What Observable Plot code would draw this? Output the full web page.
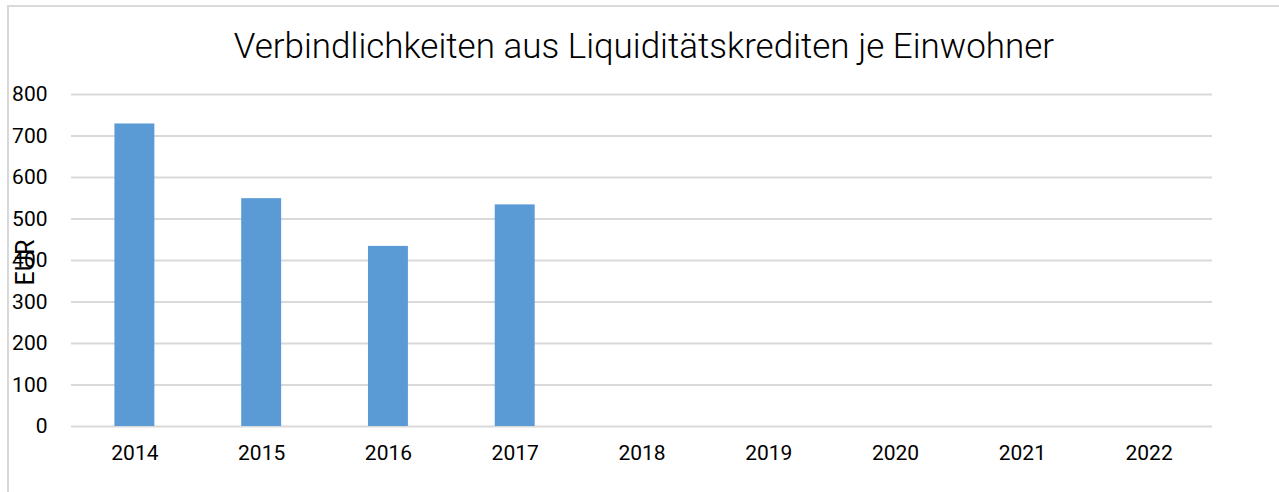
<!DOCTYPE html>
<html>
<head>
<meta charset="utf-8">
<script src="https://cdn.jsdelivr.net/npm/d3@7"></script>
<script src="https://cdn.jsdelivr.net/npm/@observablehq/plot@0.6"></script>
<style>
  html, body { margin: 0; padding: 0; background: #fff; overflow: hidden; }
  #frame {
    position: absolute; left: 7px; top: 5px; width: 1400px; height: 600px;
    border-left: 2px solid #d9d9d9; border-top: 2px solid #d9d9d9;
    box-sizing: border-box;
  }
  #title {
    height: 70px; line-height: 80px; text-align: center;
    font-family: Roboto, sans-serif; font-weight: 300;
    font-size: 35px; color: #000; width: 1270px; white-space: nowrap;
  }
  #chart svg { display: block; }
</style>
</head>
<body>
<div id="frame">
  <div id="title">Verbindlichkeiten aus Liquiditätskrediten je Einwohner</div>
  <div id="chart"></div>
</div>
<script>
const years = ["2014", "2015", "2016", "2017", "2018", "2019", "2020", "2021", "2022"];
const values = [729, 549, 434, 534, null, null, null, null, null];
const yTicks = [0, 100, 200, 300, 400, 500, 600, 700, 800];
const yLabel = "EUR";

const data = years.map((y, i) => ({year: y, value: values[i]})).filter(d => d.value != null);

const chart = Plot.plot({
  width: 1270,
  height: 415,
  marginTop: 17,
  marginBottom: 66,
  marginLeft: 62,
  marginRight: 67,
  style: {fontFamily: "Roboto, sans-serif", fontSize: "21px", color: "#000", background: "#fff"},
  x: {domain: years, paddingInner: 0.685, paddingOuter: 0.3425, round: false, label: null},
  y: {domain: [0, 800], ticks: yTicks, label: null},
  marks: [
    Plot.ruleY(yTicks, {stroke: "#d9d9d9", strokeWidth: 2}),
    Plot.barY(data, {x: "year", y: "value", fill: "#5b9bd5"}),
    Plot.axisX({tickSize: 0, tickPadding: 19, fontSize: 21, label: null}),
    Plot.axisY({ticks: yTicks, tickSize: 0, tickPadding: 24, fontSize: 21, label: null}),
    Plot.text([yLabel], {frameAnchor: "left", textAnchor: "middle", dx: -46, dy: 2, rotate: -90, fontSize: 25, text: d => d})
  ]
});
document.getElementById("chart").appendChild(chart);
</script>
</body>
</html>
